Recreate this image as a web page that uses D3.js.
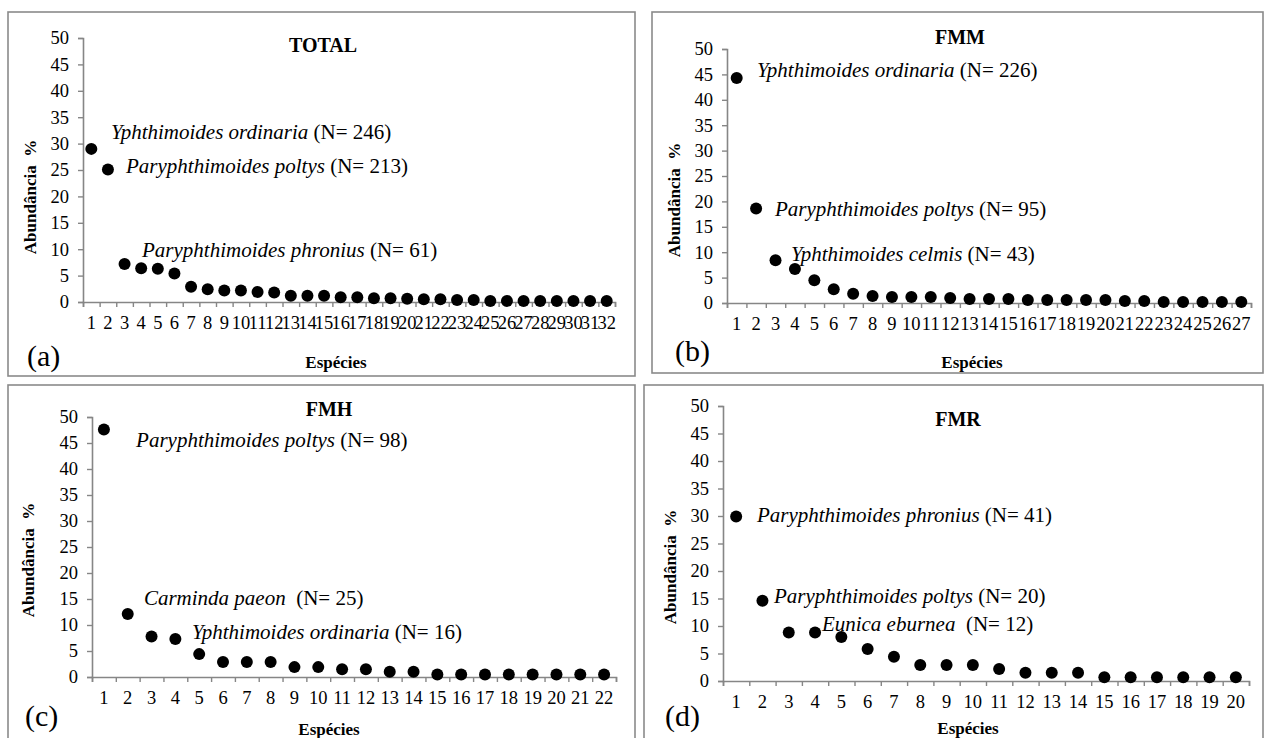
<!DOCTYPE html>
<html>
<head>
<meta charset="utf-8">
<script src="https://cdn.jsdelivr.net/npm/d3@7"></script>
<style>
  body { margin: 0; background: #fff; }
  svg { display: block; font-family: "Liberation Serif", "Times New Roman", serif; }
</style>
</head>
<body>
<svg width="1268" height="738"></svg>
<script>
// abundancia relativa (%) por especie, ordenada
var totalValues = [29.0, 25.1, 7.2, 6.4, 6.3, 5.4, 2.9, 2.4, 2.2, 2.2, 1.9, 1.8, 1.2, 1.2, 1.2, 0.9,
    0.9, 0.7, 0.7, 0.6, 0.5, 0.5, 0.4, 0.4, 0.2, 0.2, 0.2, 0.2, 0.2, 0.2, 0.2, 0.2]
var fmmValues = [44.3, 18.6, 8.4, 6.7, 4.5, 2.7, 1.8, 1.4, 1.2, 1.2, 1.2, 1.0, 0.8, 0.8, 0.8, 0.6,
    0.6, 0.6, 0.6, 0.6, 0.4, 0.4, 0.2, 0.2, 0.2, 0.2, 0.2]
var fmhValues = [47.6, 12.1, 7.8, 7.3, 4.4, 2.9, 2.9, 2.9, 1.9, 1.9, 1.5, 1.5, 1.0, 1.0, 0.5, 0.5,
    0.5, 0.5, 0.5, 0.5, 0.5, 0.5]
var fmrValues = [29.9, 14.6, 8.8, 8.8, 8.0, 5.8, 4.4, 2.9, 2.9, 2.9, 2.2, 1.5, 1.5, 1.5, 0.7, 0.7,
    0.7, 0.7, 0.7, 0.7]

var titles = ["TOTAL", "FMM", "FMH", "FMR"]
var letters = ["(a)", "(b)", "(c)", "(d)"]
var yTicks = [0, 5, 10, 15, 20, 25, 30, 35, 40, 45, 50]

// nomes das especies + N
var totalNotes = [["Yphthimoides ordinaria", " (N= 246)"], ["Paryphthimoides poltys", " (N= 213)"],
    ["Paryphthimoides phronius", " (N= 61)"]]
var fmmNotes = [["Yphthimoides ordinaria", " (N= 226)"], ["Paryphthimoides poltys", " (N= 95)"],
    ["Yphthimoides celmis", " (N= 43)"]]
var fmhNotes = [["Paryphthimoides poltys", " (N= 98)"], ["Carminda paeon", "  (N= 25)"],
    ["Yphthimoides ordinaria", " (N= 16)"]]
var fmrNotes = [["Paryphthimoides phronius", " (N= 41)"], ["Paryphthimoides poltys", " (N= 20)"],
    ["Eunica eburnea", "  (N= 12)"]]

// layout: caixa, area do grafico, posicoes dos textos
var panels = [
    {values: totalValues, notes: totalNotes, box: [8, 12, 627, 364], px: [83, 615], py: [302, 38],
        notePos: [[1.68, 32.2], [2.59, 25.9], [3.55, 9.85]],
        title: [323, 45], xTitle: [336, 362], yTitle: [30, 197], letter: [27, 355]},
    {values: fmmValues, notes: fmmNotes, box: [652, 12, 611, 361], px: [727, 1251], py: [303, 49],
        notePos: [[1.55, 45.9], [2.47, 18.5], [3.30, 9.8]],
        title: [960, 37], xTitle: [972, 362], yTitle: [674, 200], letter: [675, 350]},
    {values: fmhValues, notes: fmhNotes, box: [8, 385, 627, 360], px: [92, 616], py: [677, 417],
        notePos: [[1.85, 45.6], [2.18, 15.2], [4.20, 8.65]],
        title: [329, 409], xTitle: [329, 729], yTitle: [28, 560], letter: [25, 715]},
    {values: fmrValues, notes: fmrNotes, box: [644, 385, 619, 360], px: [723, 1249], py: [681, 406],
        notePos: [[1.29, 30.2], [1.94, 15.5], [3.76, 10.5]],
        title: [958, 419], xTitle: [968, 728], yTitle: [670, 567], letter: [665, 715]}
]

var svg = d3.select("svg")
var axisColor = "#868686"

panels.forEach(function (p, k) {
    var n = p.values.length
    var g = svg.append("g")

    g.append("rect")
        .attr("x", p.box[0]).attr("y", p.box[1])
        .attr("width", p.box[2]).attr("height", p.box[3])
        .attr("fill", "none").attr("stroke", "#8a8a8a").attr("stroke-width", 1.6)

    var x = d3.scaleLinear().domain([0, n]).range(p.px)
    var xb = d3.scaleBand().domain(d3.range(1, n + 1)).range(p.px)
    var y = d3.scaleLinear().domain([0, 50]).range(p.py)

    // eixo y
    g.append("g").attr("transform", "translate(" + p.px[0] + ",0)")
        .call(d3.axisLeft(y).tickValues(yTicks).tickSize(5).tickPadding(9))
    // eixo x: marcas entre categorias
    g.append("g").attr("transform", "translate(0," + p.py[0] + ")")
        .call(d3.axisBottom(x).tickValues(d3.range(n + 1)).tickFormat("").tickSize(5))
    var axl = g.append("g").attr("transform", "translate(0," + p.py[0] + ")")
        .call(d3.axisBottom(xb).tickSize(0).tickPadding(15))
    axl.select(".domain").remove()

    g.selectAll(".domain").attr("stroke", axisColor).attr("stroke-width", 1.6)
    g.selectAll(".tick line").attr("stroke", axisColor).attr("stroke-width", 1.4)
    g.selectAll(".tick text").attr("fill", "#000").style("font-size", "18.5px")
        .style("font-family", "Liberation Serif")
    axl.selectAll(".tick text").attr("dy", "0.65em")

    // pontos
    g.selectAll("circle").data(p.values).enter().append("circle")
        .attr("cx", (d, i) => xb(i + 1) + xb.bandwidth() / 2)
        .attr("cy", d => y(d))
        .attr("r", 6).attr("fill", "#000")

    // nomes
    p.notes.forEach(function (t, j) {
        var txt = g.append("text")
            .attr("x", x(p.notePos[j][0])).attr("y", y(p.notePos[j][1]))
            .attr("dy", "0.35em").style("font-size", "21px")
        txt.append("tspan").style("font-style", "italic").text(t[0])
        txt.append("tspan").style("white-space", "pre").text(t[1])
    })

    g.append("text").attr("x", p.title[0]).attr("y", p.title[1]).attr("dy", "0.35em")
        .attr("text-anchor", "middle").style("font-weight", "bold").style("font-size", "20px")
        .text(titles[k])

    g.append("text").attr("x", p.xTitle[0]).attr("y", p.xTitle[1]).attr("dy", "0.35em")
        .attr("text-anchor", "middle").style("font-weight", "bold").style("font-size", "17px")
        .text("Espécies")

    g.append("text").attr("transform", "translate(" + p.yTitle[0] + "," + p.yTitle[1] + ") rotate(-90)")
        .attr("dy", "0.35em").attr("text-anchor", "middle")
        .style("font-weight", "bold").style("font-size", "17px").style("white-space", "pre")
        .text("Abundância  %")

    g.append("text").attr("x", p.letter[0]).attr("y", p.letter[1]).attr("dy", "0.35em")
        .style("font-size", "30px").text(letters[k])
})
</script>
</body>
</html>
